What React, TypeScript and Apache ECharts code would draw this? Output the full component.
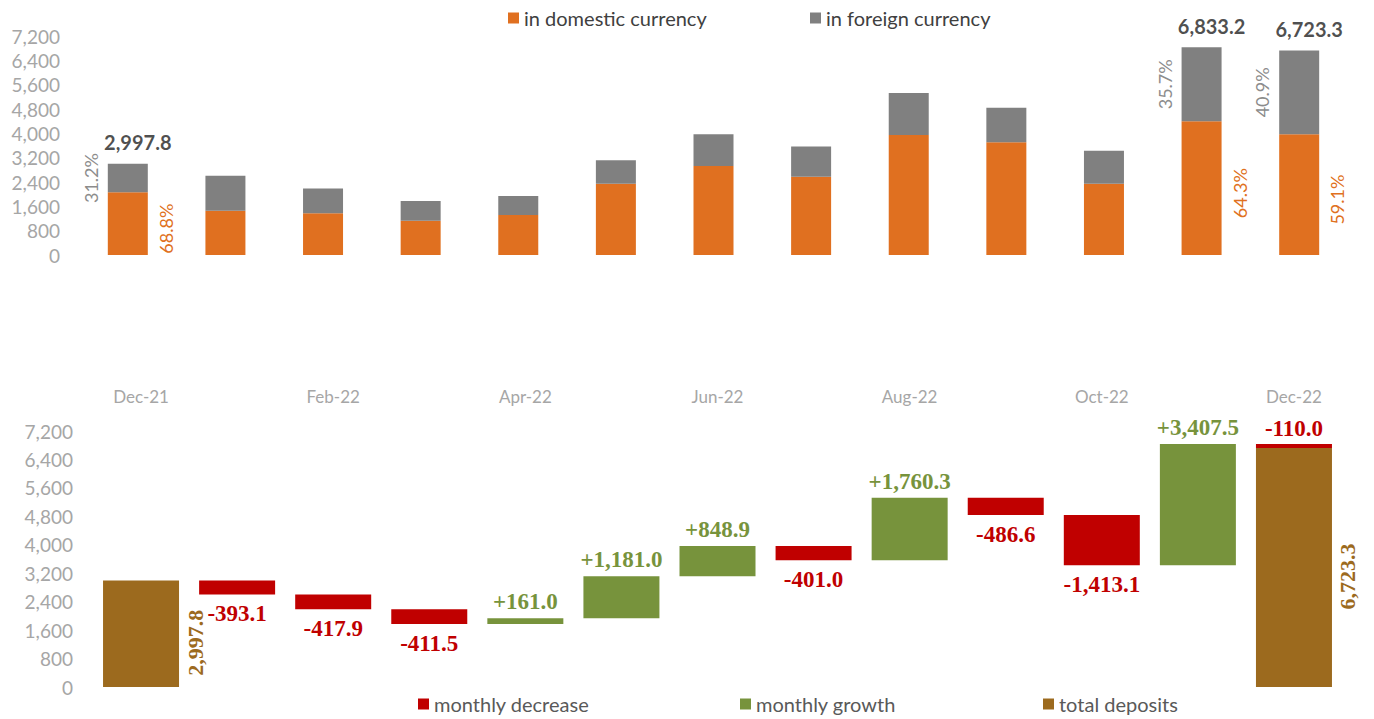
import React, { useEffect, useRef } from "react";
import * as echarts from "echarts";

const months = ["Dec-21", "Jan-22", "Feb-22", "Mar-22", "Apr-22", "May-22", "Jun-22", "Jul-22", "Aug-22", "Sep-22", "Oct-22", "Nov-22", "Dec-22"];
const domestic = [2062.5, 1457.0, 1371.0, 1128.0, 1315.0, 2345.0, 2926.0, 2575.0, 3946.0, 3705.0, 2345.0, 4393.7, 3973.5];
const foreign = [935.3, 1147.7, 815.8, 647.3, 621.3, 772.3, 1040.2, 990.2, 1379.5, 1133.9, 1080.8, 2439.5, 2749.8];
const totalLabels: (number | null)[] = [2997.8, null, null, null, null, null, null, null, null, null, null, 6833.2, 6723.3];
const domesticPct: (number | null)[] = [68.8, null, null, null, null, null, null, null, null, null, null, 64.3, 59.1];
const foreignPct: (number | null)[] = [31.2, null, null, null, null, null, null, null, null, null, null, 35.7, 40.9];

const openingTotal = 2997.8;
const closingTotal = 6723.3;
const monthlyChange: (number | null)[] = [null, -393.1, -417.9, -411.5, 161.0, 1181.0, 848.9, -401.0, 1760.3, -486.6, -1413.1, 3407.5, -110.0];

const yMax = 7200;
const yStep = 800;

const SANS = "Lato, 'Open Sans', sans-serif";
const SERIF = "'Liberation Serif', 'DejaVu Serif', serif";
const ORANGE = "#E07020";
const GRAY = "#808080";
const RED = "#C00000";
const GREEN = "#77933C";
const BROWN = "#9C6A1E";

const fmt = (v: number) =>
  v.toLocaleString("en-US", { minimumFractionDigits: 1, maximumFractionDigits: 1 });

function buildWaterfall() {
  const base: any[] = [];
  const total: any[] = [];
  const dec: any[] = [];
  const grow: any[] = [];
  let cum = openingTotal;
  const last = months.length - 1;
  for (let i = 0; i < months.length; i++) {
    if (i === 0) {
      base.push("-");
      total.push(openingTotal);
      dec.push("-");
      grow.push("-");
      continue;
    }
    const chg = monthlyChange[i] as number;
    if (i === last) {
      base.push("-");
      total.push(closingTotal);
      if (chg < 0) {
        dec.push({ value: -chg, label: { position: "top", distance: 4 } });
        grow.push("-");
      } else {
        dec.push("-");
        grow.push(chg);
      }
      continue;
    }
    const prev = cum;
    cum = cum + chg;
    base.push(Math.min(prev, cum));
    total.push("-");
    if (chg < 0) {
      dec.push(-chg);
      grow.push("-");
    } else {
      dec.push("-");
      grow.push(chg);
    }
  }
  return { base, total, dec, grow };
}

export default function App() {
  const ref = useRef<HTMLDivElement>(null);
  useEffect(() => {
    if (!ref.current) return;
    const chart = echarts.init(ref.current, undefined, { renderer: "svg" });
    const wf = buildWaterfall();

    const pctLabelCommon = {
      rotate: 90,
      align: "center",
      verticalAlign: "middle",
      fontFamily: SANS,
      fontSize: 18,
    };

    const legendBase = {
      padding: 0,
      icon: "rect",
      itemWidth: 11,
      itemHeight: 11,
      itemGap: 5,
      selectedMode: false,
    };

    const option: any = {
      animation: false,
      backgroundColor: "#ffffff",
      legend: [
        { ...legendBase, left: 508, top: 8, data: ["in domestic currency"], textStyle: { fontFamily: SANS, fontSize: 20, color: "#404040" } },
        { ...legendBase, left: 810, top: 8, data: ["in foreign currency"], textStyle: { fontFamily: SANS, fontSize: 20, color: "#404040" } },
        { ...legendBase, left: 418, top: 694, data: ["monthly decrease"], textStyle: { fontFamily: SANS, fontSize: 20, color: "#595959" } },
        { ...legendBase, left: 740, top: 694, data: ["monthly growth"], textStyle: { fontFamily: SANS, fontSize: 20, color: "#595959" } },
        { ...legendBase, left: 1043, top: 694, data: ["total deposits"], textStyle: { fontFamily: SANS, fontSize: 20, color: "#595959" } },
      ],
      grid: [
        { left: 79, right: 26, top: 36, bottom: 464, containLabel: false },
        { left: 93, right: 32, top: 431, bottom: 32, containLabel: false },
      ],
      xAxis: [
        { type: "category", gridIndex: 0, data: months, show: false },
        {
          type: "category",
          gridIndex: 1,
          data: months,
          position: "top",
          axisLine: { show: false },
          axisTick: { show: false },
          axisLabel: { interval: 1, color: "#a6a6a6", fontFamily: SANS, fontSize: 17, margin: 26 },
        },
      ],
      yAxis: [
        {
          type: "value",
          gridIndex: 0,
          min: 0,
          max: yMax,
          interval: yStep,
          splitLine: { show: false },
          axisLine: { show: false },
          axisTick: { show: false },
          axisLabel: { color: "#a6a6a6", fontFamily: SANS, fontSize: 19, margin: 19, formatter: (v: number) => v.toLocaleString("en-US") },
        },
        {
          type: "value",
          gridIndex: 1,
          min: 0,
          max: yMax,
          interval: yStep,
          splitLine: { show: false },
          axisLine: { show: false },
          axisTick: { show: false },
          axisLabel: { color: "#a6a6a6", fontFamily: SANS, fontSize: 19, margin: 20, formatter: (v: number) => v.toLocaleString("en-US") },
        },
      ],
      series: [
        {
          name: "in domestic currency",
          type: "bar",
          xAxisIndex: 0,
          yAxisIndex: 0,
          stack: "dep",
          barWidth: 40,
          itemStyle: { color: ORANGE },
          label: { show: false },
          data: domestic.map((v, i) =>
            domesticPct[i] == null
              ? v
              : {
                  value: v,
                  label: {
                    show: true,
                    ...pctLabelCommon,
                    color: ORANGE,
                    position: ["100%", "50%"],
                    offset: [-5, 18],
                    formatter: (domesticPct[i] as number).toFixed(1) + "%",
                  },
                }
          ),
        },
        {
          name: "in foreign currency",
          type: "bar",
          xAxisIndex: 0,
          yAxisIndex: 0,
          stack: "dep",
          barWidth: 40,
          itemStyle: { color: GRAY },
          label: { show: false },
          data: foreign.map((v, i) =>
            foreignPct[i] == null
              ? v
              : {
                  value: v,
                  label: {
                    show: true,
                    ...pctLabelCommon,
                    color: "#8C8C8C",
                    position: [-17, "50%"],
                    formatter: (foreignPct[i] as number).toFixed(1) + "%",
                  },
                }
          ),
        },
        {
          name: "total",
          type: "scatter",
          xAxisIndex: 0,
          yAxisIndex: 0,
          symbolSize: 1,
          itemStyle: { color: "transparent" },
          silent: true,
          label: {
            show: true,
            position: "top",
            distance: 11,
            offset: [10, 0],
            color: "#1f1f1f",
            fontFamily: SANS,
            fontWeight: "bold",
            fontSize: 20,
            formatter: (p: any) => fmt(p.value),
          },
          data: totalLabels.map((v) => (v == null ? "-" : v)),
        },
        {
          name: "base",
          type: "bar",
          xAxisIndex: 1,
          yAxisIndex: 1,
          stack: "wf",
          barWidth: 76,
          itemStyle: { color: "transparent" },
          silent: true,
          data: wf.base,
        },
        {
          name: "total deposits",
          type: "bar",
          xAxisIndex: 1,
          yAxisIndex: 1,
          stack: "wf",
          barWidth: 76,
          itemStyle: { color: BROWN },
          label: {
            show: true,
            rotate: 90,
            position: ["100%", "50%"],
            offset: [-9, 16],
            align: "center",
            verticalAlign: "middle",
            color: BROWN,
            fontFamily: SERIF,
            fontWeight: "bold",
            fontSize: 22,
            formatter: (p: any) => fmt(p.value),
          },
          data: wf.total,
        },
        {
          name: "monthly decrease",
          type: "bar",
          xAxisIndex: 1,
          yAxisIndex: 1,
          stack: "wf",
          barWidth: 76,
          itemStyle: { color: RED },
          label: {
            show: true,
            position: "bottom",
            distance: 8,
            color: RED,
            fontFamily: SERIF,
            fontWeight: "bold",
            fontSize: 23,
            formatter: (p: any) => "-" + fmt(p.value),
          },
          data: wf.dec,
        },
        {
          name: "monthly growth",
          type: "bar",
          xAxisIndex: 1,
          yAxisIndex: 1,
          stack: "wf",
          barWidth: 76,
          itemStyle: { color: GREEN },
          label: {
            show: true,
            position: "top",
            distance: 5,
            color: GREEN,
            fontFamily: SERIF,
            fontWeight: "bold",
            fontSize: 23,
            formatter: (p: any) => "+" + fmt(p.value),
          },
          data: wf.grow,
        },
      ],
    };
    chart.setOption(option);
    return () => chart.dispose();
  }, []);

  return (
    <div
      ref={ref}
      style={{ position: "absolute", left: 0, top: 0, width: 1374, height: 719, background: "#fff" }}
    />
  );
}
